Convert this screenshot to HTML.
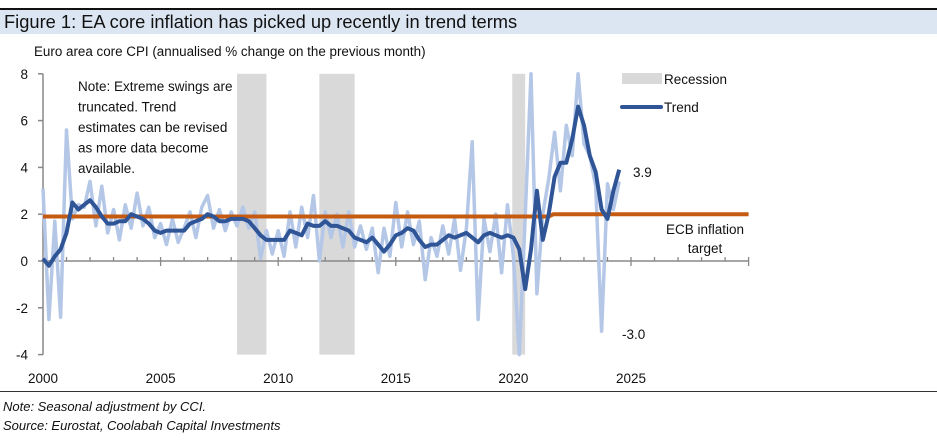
<!DOCTYPE html>
<html><head><meta charset="utf-8"><style>
body{margin:0;background:#fff;font-family:"Liberation Sans",Arial,sans-serif;}
#wrap{position:relative;width:937px;height:442px;overflow:hidden;}
.t{position:absolute;white-space:nowrap;color:#111;}
</style></head><body>
<div id="wrap">
<div style="position:absolute;left:0;top:8px;width:937px;height:2px;background:#111"></div>
<div style="position:absolute;left:0;top:10px;width:937px;height:24px;background:#dce6f2"></div>
<div class="t" style="left:4px;top:11px;font-size:18.3px;">Figure 1: EA core inflation has picked up recently in trend terms</div>
<div class="t" style="left:34px;top:44px;font-size:13.4px;">Euro area core CPI (annualised % change on the previous month)</div>
<svg id="chart" width="937" height="400" style="position:absolute;left:0;top:0"></svg>
<div style="position:absolute;left:0;top:391px;width:937px;height:1px;background:#333"></div>
<div class="t" style="left:3px;top:399px;font-size:13px;font-style:italic;">Note: Seasonal adjustment by CCI.</div>
<div class="t" style="left:3px;top:418px;font-size:13px;font-style:italic;">Source: Eurostat, Coolabah Capital Investments</div>
</div>
<script>
const startYear = 2000, step = 0.25;
const rawValues = [3.1,-2.5,1.7,-2.4, 5.6,1.8,2.4,2.3, 3.4,1.5,3.2,1.2, 2.2,0.9,2.4,1.4, 2.9,1.5,2.3,1.0, 1.6,0.7,1.8,0.8, 1.4,2.1,1.0,2.3, 2.8,1.4,2.2,1.3, 2.1,1.5,2.3,1.4, 2.1,0.1,1.3,0.3, 1.3,0.2,2.1,0.6, 2.3,1.0,2.8,0.0, 2.1,1.0,2.0,0.6, 2.1,0.6,1.5,0.5, 1.4,-0.5,1.4,0.2, 2.5,0.6,2.1,0.7, 1.7,-0.8,1.0,0.2, 1.5,0.3,1.8,-0.4, 1.4,5.1,-2.5,1.8, 0.4,2.0,-0.5,2.4, 0.2,-4.0,1.9,8.0, -1.4,2.0,3.5,5.5, 3.0,5.8,4.5,8.0, 5.0,4.5,3.2,-3.0, 3.3,2.2,3.4];
const trendValues = [0.1,-0.2,0.2,0.5, 1.2,2.5,2.2,2.4, 2.6,2.3,1.9,1.6, 1.6,1.7,1.7,2.0, 1.9,1.8,1.6,1.3, 1.2,1.3,1.3,1.3, 1.3,1.6,1.7,1.8, 2.0,1.9,1.7,1.7, 1.8,1.8,1.8,1.7, 1.4,1.1,0.9,0.9, 0.9,0.9,1.3,1.2, 1.1,1.6,1.5,1.5, 1.7,1.5,1.5,1.4, 1.3,1.0,0.9,0.8, 1.0,0.7,0.4,0.7, 1.1,1.2,1.4,1.3, 0.9,0.6,0.7,0.7, 0.9,1.1,1.0,1.1, 1.2,1.0,0.8,1.1, 1.2,1.1,1.0,1.1, 1.0,0.5,-1.2,0.5, 3.0,0.9,2.0,3.6, 4.2,4.2,5.2,6.6, 5.8,4.5,3.8,2.2, 1.8,3.0,3.9];
const recessions = [[2008.25,2009.5],[2011.75,2013.25],[2019.95,2020.5]];
const targetYears = [2000,2021.5,2021.7,2030];
const targetValues = [1.9,1.9,2.0,2.0];
const yTicks = [8,6,4,2,0,-2,-4];
const xTicks = [2000,2005,2010,2015,2020,2025];

const X = y => 43 + (y-2000)*23.52;
const Y = v => 261 - v*23.4;
const svg = document.getElementById('chart');
const NS = 'http://www.w3.org/2000/svg';
function mk(tag, attrs){const e=document.createElementNS(NS,tag);for(const k in attrs)e.setAttribute(k,attrs[k]);svg.appendChild(e);return e;}

recessions.forEach(r=>{
  const e=mk('rect',{x:X(r[0]),y:Y(8),width:X(r[1])-X(r[0]),height:Y(-4)-Y(8),fill:'#d9d9d9'});
  
  
});
let ya=mk('line',{x1:X(2000),x2:X(2000),y1:Y(8),y2:Y(-4),stroke:'#888','stroke-width':1.5});


yTicks.forEach(v=>{
  mk('line',{x1:X(2000)-5,x2:X(2000),y1:Y(v),y2:Y(v),stroke:'#888','stroke-width':1.5});
  const t=mk('text',{x:28,y:Y(v)+5,'text-anchor':'end','font-size':13.5,fill:'#111','font-family':'Liberation Sans, sans-serif'});
  t.textContent=v;
  
  
});
let xa=mk('line',{x1:X(2000),x2:X(2030),y1:Y(0),y2:Y(0),stroke:'#888','stroke-width':1.5});


for(let yr=2001;yr<=2030;yr++){
  const major=yr%5===0;
  mk('line',{x1:X(yr),x2:X(yr),y1:Y(0)-4,y2:Y(0)+(major?5:0),stroke:'#888','stroke-width':1.3});
}
xTicks.forEach(yr=>{
  const t=mk('text',{x:X(yr),y:383,'text-anchor':'middle','font-size':13.5,fill:'#111','font-family':'Liberation Sans, sans-serif'});
  t.textContent=yr;
  
  
});
function path(ys, vs){return vs.map((v,i)=>(i?'L':'M')+X(ys?ys[i]:startYear+i*step).toFixed(1)+' '+Y(Math.max(-4,Math.min(8,v))).toFixed(1)).join(' ');}
let raw=mk('path',{d:path(null,rawValues),fill:'none',stroke:'#b4c7e7','stroke-width':3.5,'stroke-linejoin':'round'});


let tg=mk('path',{d:path(targetYears,targetValues),fill:'none',stroke:'#c55a11','stroke-width':4});


let tr=mk('path',{d:path(null,trendValues),fill:'none',stroke:'#2f5597','stroke-width':4,'stroke-linejoin':'round'});



let lr=mk('rect',{x:622,y:73,width:40,height:11,fill:'#d9d9d9'});


let ll=mk('line',{x1:622,x2:661,y1:107,y2:107,stroke:'#2f5597','stroke-width':4,'stroke-linecap':'round'});


function txt(x,y,s,name,anchor){const t=mk('text',{x:x,y:y,'font-size':13.5,fill:'#111','font-family':'Liberation Sans, sans-serif','text-anchor':anchor||'start'});t.textContent=s;
  
  return t;}
txt(664,84,'Recession','legend-recession-label');
txt(664,112,'Trend','legend-trend-label');
txt(633,177,'3.9','latest-trend-label');
txt(622,339,'-3.0','latest-raw-label');
txt(705,234,'ECB inflation','ecb-target-label','middle');
txt(705,253,'target','ecb-target-label-2','middle');
['Note: Extreme swings are','truncated. Trend','estimates can be revised','as more data become','available.'].forEach((s,i)=>txt(78,91+i*20.5,s,'note-line'));
</script>
</body></html>
